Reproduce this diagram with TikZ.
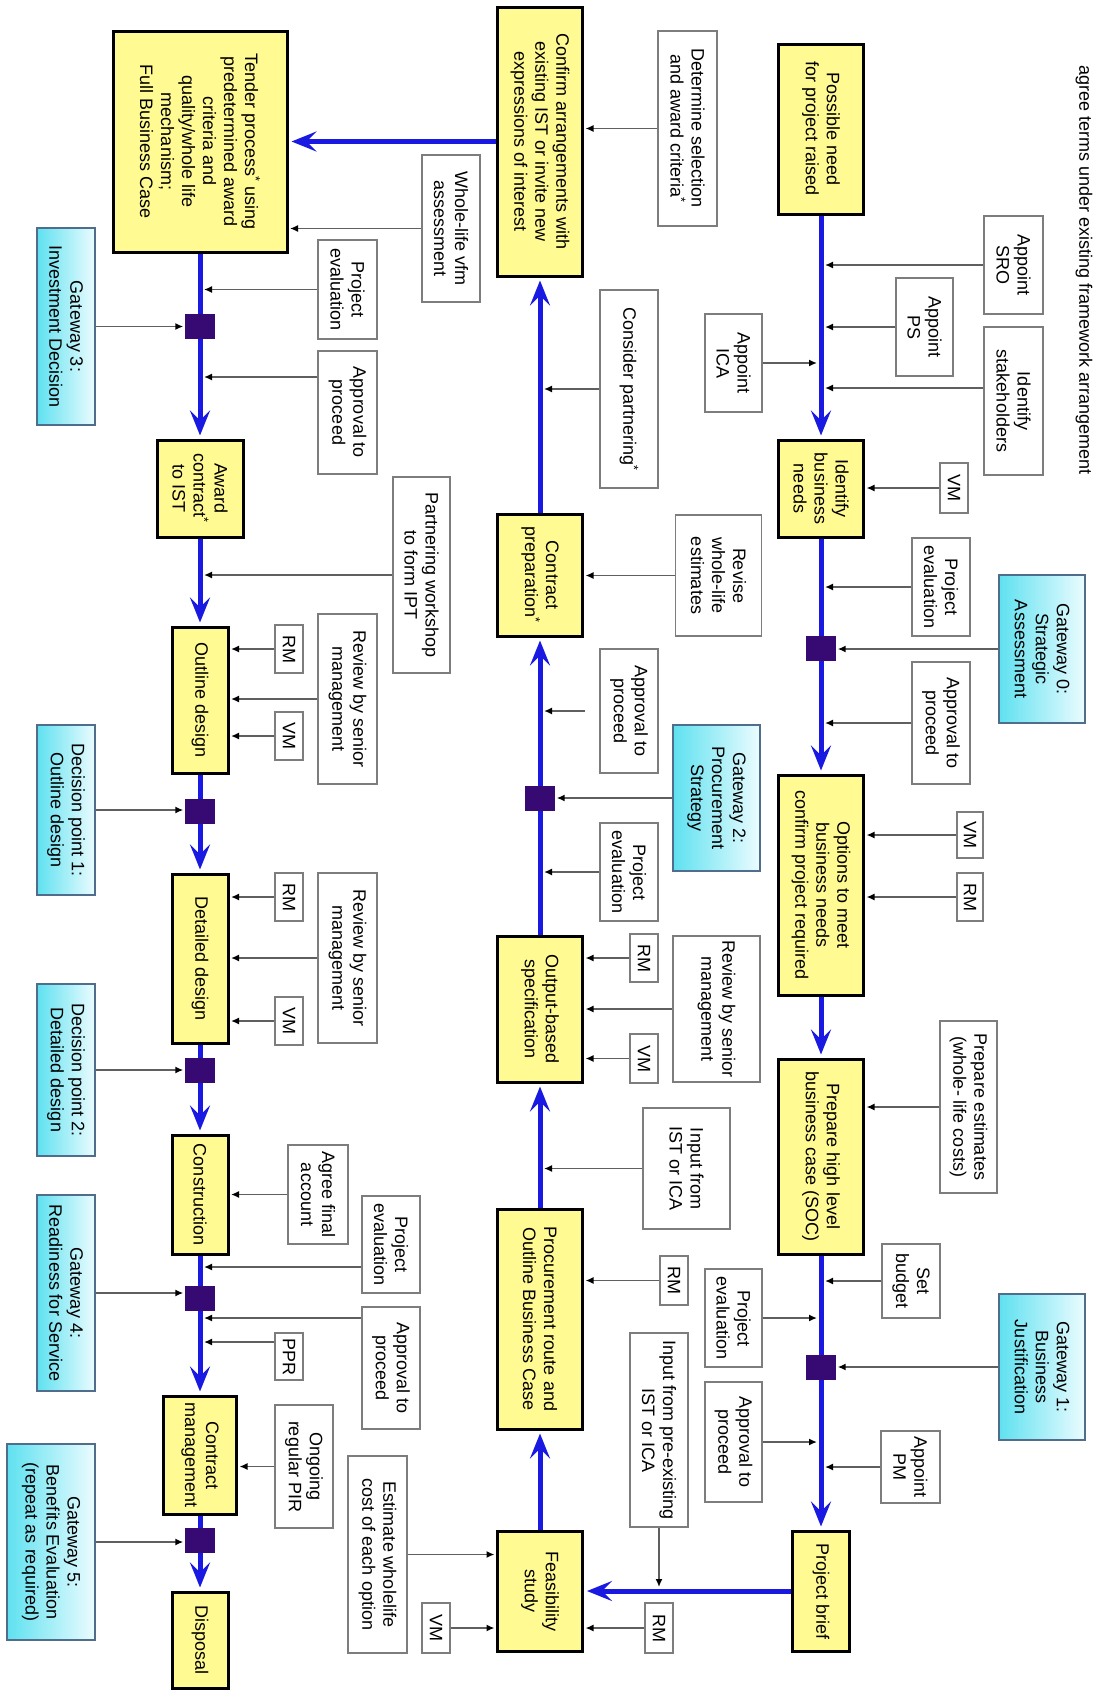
\documentclass[tikz,border=0pt]{standalone}
\usepackage{fontspec}
\setmainfont{Liberation Sans}
\usetikzlibrary{arrows.meta}

\definecolor{stagefill}{RGB}{255,250,145}
\definecolor{flowblue}{RGB}{25,25,225}
\definecolor{gatepurple}{RGB}{55,10,115}
\definecolor{gatecyan}{RGB}{95,225,240}
\definecolor{gatelight}{RGB}{235,252,255}
\definecolor{gateedge}{RGB}{80,110,140}
\definecolor{notegray}{RGB}{125,125,125}
\definecolor{feedgray}{RGB}{95,95,95}

\tikzset{
  stagebox/.style={draw=black, line width=3pt, fill=stagefill, rotate=-90, align=center, inner sep=2pt},
  notebox/.style={draw=notegray, line width=1.5pt, fill=white, rotate=-90, align=center, inner sep=2pt},
  gatebox/.style={draw=gateedge, line width=1.5pt, left color=gatecyan, right color=gatelight, rotate=-90, align=center, inner sep=2pt},
  gatesq/.style={fill=gatepurple, minimum width=30, minimum height=25, inner sep=0pt},
  flowline/.style={draw=flowblue, line width=5pt, -{Stealth[length=25pt,width=20pt,inset=10pt]}, shorten >=3pt},
  feedline/.style={draw=feedgray, line width=1.5pt, -{Latex[length=8pt,width=7pt,color=black]}, shorten >=4pt},
  feedbox/.style={feedline, shorten >=1.5pt}
}

\begin{document}
\begin{tikzpicture}[x=1pt, y=-1pt, font=\fontsize{18}{21}\selectfont]
\useasboundingbox (0,0) rectangle (1096,1690);
\coordinate (ls) at (200,0);
\coordinate (ms) at (540,0);
\coordinate (rs) at (821,0);

\node[rotate=-90] (agr) at (1084,270) {agree terms under existing framework arrangement};

% right-hand column
\node[stagebox, minimum width=170, minimum height=85] (need) at (821,129) {Possible need\\for project raised};
\node[notebox, minimum width=98, minimum height=59] (sro) at (1013.5,265) {Appoint\\SRO};
\node[notebox, minimum width=98, minimum height=57] (ps) at (924.5,327) {Appoint\\PS};
\node[notebox, minimum width=148, minimum height=59] (stk) at (1013.5,401) {Identify\\stakeholders};
\node[notebox, minimum width=98, minimum height=57] (ica) at (733.5,363) {Appoint\\ICA};
\node[stagebox, minimum width=97, minimum height=85] (idn) at (821,488.5) {Identify\\business\\needs};
\node[notebox, minimum width=50, minimum height=28] (vm1) at (954,488) {VM};
\node[notebox, minimum width=98, minimum height=58] (pe0) at (941,587) {Project\\evaluation};
\node[gatebox, minimum width=148, minimum height=86] (gw0) at (1042,649) {Gateway 0:\\Strategic\\Assessment};
\node[notebox, minimum width=122, minimum height=58] (ap0) at (941,723) {Approval to\\proceed};
\node[stagebox, minimum width=220, minimum height=85] (opt) at (821,885) {Options to meet\\business needs\\confirm project required};
\node[notebox, minimum width=46, minimum height=26] (vm2) at (970,835) {VM};
\node[notebox, minimum width=48, minimum height=26] (rm2) at (970,897) {RM};
\node[stagebox, minimum width=195, minimum height=85] (soc) at (821,1156.5) {Prepare high level\\business case (SOC)};
\node[notebox, minimum width=172, minimum height=57] (est) at (968.5,1107) {Prepare estimates\\(whole- life costs)};
\node[notebox, minimum width=74, minimum height=58] (bud) at (911,1281) {Set\\budget};
\node[notebox, minimum width=98, minimum height=57] (pe1) at (733.5,1318) {Project\\evaluation};
\node[gatebox, minimum width=146, minimum height=86] (gw1) at (1042,1367) {Gateway 1:\\Business\\Justification};
\node[notebox, minimum width=120, minimum height=57] (ap1) at (733.5,1442) {Approval to\\proceed};
\node[notebox, minimum width=72, minimum height=59] (pm) at (910.5,1467) {Appoint\\PM};
\node[stagebox, minimum width=120, minimum height=57] (brief) at (821,1591) {Project brief};

% middle column
\node[stagebox, minimum width=269, minimum height=85] (conf) at (540,141.5) {Confirm arrangements with\\existing IST or invite new\\expressions of interest};
\node[notebox, minimum width=195, minimum height=59] (det) at (687.5,128.5) {Determine selection\\and award criteria\textsuperscript{*}};
\node[notebox, minimum width=147, minimum height=58] (vfm) at (451,228.5) {Whole-life vfm\\assessment};
\node[notebox, minimum width=198, minimum height=58] (cons) at (629,389) {Consider partnering\textsuperscript{*}};
\node[stagebox, minimum width=122, minimum height=85] (cprep) at (540,575) {Contract\\preparation\textsuperscript{*}};
\node[notebox, minimum width=121, minimum height=86] (rev) at (718.5,575.5) {Revise\\whole-life\\estimates};
\node[notebox, minimum width=124, minimum height=58] (ap2) at (629,711) {Approval to\\proceed};
\node[gatebox, minimum width=146, minimum height=87] (gw2) at (716.5,798) {Gateway 2:\\Procurement\\Strategy};
\node[notebox, minimum width=98, minimum height=58] (pe2) at (629,872) {Project\\evaluation};
\node[stagebox, minimum width=146, minimum height=85] (obs) at (540,1009) {Output-based\\specification};
\node[notebox, minimum width=48, minimum height=28] (rm3) at (644,958) {RM};
\node[notebox, minimum width=146, minimum height=87] (srm3) at (716.5,1009) {Review by senior\\management};
\node[notebox, minimum width=49, minimum height=28] (vm3) at (644,1058.5) {VM};
\node[notebox, minimum width=121, minimum height=87] (inp) at (686.5,1168.5) {Input from\\IST or ICA};
\node[stagebox, minimum width=220, minimum height=85] (proc) at (540,1319) {Procurement route and\\Outline Business Case};
\node[notebox, minimum width=49, minimum height=28] (rm4) at (674,1280.5) {RM};
\node[notebox, minimum width=194, minimum height=58] (pre) at (659,1430) {Input from pre-existing\\IST or ICA};
\node[stagebox, minimum width=120, minimum height=85] (feas) at (540,1591) {Feasibility\\study};
\node[notebox, minimum width=50, minimum height=28] (rm5) at (659,1628) {RM};
\node[notebox, minimum width=197, minimum height=59] (ewl) at (377.5,1554.5) {Estimate wholelife\\cost of each option};
\node[notebox, minimum width=50, minimum height=28] (vm5) at (436,1628) {VM};

% left-hand column
\node[stagebox, minimum width=221, minimum height=174] (tend) at (200,141.5) {Tender process\textsuperscript{*} using\\predetermined award\\criteria and\\quality/whole life\\mechanism;\\Full Business Case};
\node[notebox, minimum width=99, minimum height=59] (pe3) at (347.5,289.5) {Project\\evaluation};
\node[gatebox, minimum width=197, minimum height=58] (gw3) at (66,326.5) {Gateway 3:\\Investment Decision};
\node[notebox, minimum width=123, minimum height=59] (ap3) at (347.5,412.5) {Approval to\\proceed};
\node[stagebox, minimum width=97, minimum height=86] (awd) at (200,488.5) {Award\\contract\textsuperscript{*}\\to IST};
\node[notebox, minimum width=196, minimum height=57] (pws) at (421.5,575) {Partnering workshop\\to form IPT};
\node[stagebox, minimum width=146, minimum height=56] (od) at (200,700) {Outline design};
\node[notebox, minimum width=48, minimum height=28] (rm6) at (289,649) {RM};
\node[notebox, minimum width=170, minimum height=59] (srm6) at (347.5,699) {Review by senior\\management};
\node[notebox, minimum width=48, minimum height=28] (vm6) at (289,736) {VM};
\node[gatebox, minimum width=170, minimum height=58] (dp1) at (66,810) {Decision point 1:\\Outline design};
\node[stagebox, minimum width=169, minimum height=56] (dd) at (200,958.5) {Detailed design};
\node[notebox, minimum width=48, minimum height=28] (rm7) at (289,897) {RM};
\node[notebox, minimum width=170, minimum height=59] (srm7) at (347.5,958) {Review by senior\\management};
\node[notebox, minimum width=48, minimum height=28] (vm7) at (289,1021) {VM};
\node[gatebox, minimum width=172, minimum height=58] (dp2) at (66,1070) {Decision point 2:\\Detailed design};
\node[stagebox, minimum width=119, minimum height=56] (con) at (200,1194.5) {Construction};
\node[notebox, minimum width=99, minimum height=60] (afa) at (318,1194.5) {Agree final\\account};
\node[notebox, minimum width=97, minimum height=58] (pe4) at (391,1244.5) {Project\\evaluation};
\node[notebox, minimum width=122, minimum height=58] (ap4) at (391,1368) {Approval to\\proceed};
\node[gatebox, minimum width=196, minimum height=58] (gw4) at (66,1293) {Gateway 4:\\Readiness for Service};
\node[notebox, minimum width=47, minimum height=28] (ppr) at (289,1356.5) {PPR};
\node[stagebox, minimum width=118, minimum height=73] (cm) at (200,1455) {Contract\\management};
\node[notebox, minimum width=123, minimum height=58] (pir) at (304,1466.5) {Ongoing\\regular PIR};
\node[gatebox, minimum width=196, minimum height=88] (gw5) at (51,1542) {Gateway 5:\\Benefits Evaluation\\(repeat as required)};
\node[stagebox, minimum width=96, minimum height=56] (disp) at (200,1640) {Disposal};

% main flow
\draw[flowline] (need) -- (idn);
\draw[flowline] (idn) -- (opt);
\draw[flowline] (opt) -- (soc);
\draw[flowline] (soc) -- (brief);
\draw[flowline] (brief) -- (feas);
\draw[flowline] (feas) -- (proc);
\draw[flowline] (proc) -- (obs);
\draw[flowline] (obs) -- (cprep);
\draw[flowline] (cprep) -- (conf);
\draw[flowline] (conf) -- (tend);
\draw[flowline] (tend) -- (awd);
\draw[flowline] (awd) -- (od);
\draw[flowline] (od) -- (dd);
\draw[flowline] (dd) -- (con);
\draw[flowline] (con) -- (cm);
\draw[flowline] (cm) -- (disp);

% gateway markers
\node[gatesq] (sq0) at (821,648.5) {};
\node[gatesq] (sq1) at (821,1367.5) {};
\node[gatesq] (sq2) at (540,798.5) {};
\node[gatesq] (sq3) at (200,326.5) {};
\node[gatesq] (sqd1) at (200,811) {};
\node[gatesq] (sqd2) at (200,1070.5) {};
\node[gatesq] (sq4) at (200,1298) {};
\node[gatesq] (sq5) at (200,1540.5) {};

% inputs, right-hand column
\draw[feedline] (sro) -- (sro -| rs);
\draw[feedline] (ps) -- (ps -| rs);
\coordinate (stkout) at ([yshift=13pt]stk.south);
\draw[feedline] (stkout) -- (stkout -| rs);
\draw[feedline] (ica) -- (ica -| rs);
\draw[feedbox] (vm1) -- (vm1 -| idn.north);
\draw[feedline] (pe0) -- (pe0 -| rs);
\draw[feedbox] (gw0) -- (gw0 -| sq0.east);
\draw[feedline] (ap0) -- (ap0 -| rs);
\draw[feedbox] (vm2) -- (vm2 -| opt.north);
\draw[feedbox] (rm2) -- (rm2 -| opt.north);
\draw[feedbox] (est) -- (est -| soc.north);
\draw[feedline] (bud) -- (bud -| rs);
\draw[feedline] (pe1) -- (pe1 -| rs);
\draw[feedbox] (gw1) -- (gw1 -| sq1.east);
\draw[feedline] (ap1) -- (ap1 -| rs);
\draw[feedline] (pm) -- (pm -| rs);

% inputs, middle column
\draw[feedbox] (det) -- (det -| conf.north);
\draw[feedbox] (vfm) -- (vfm -| tend.north);
\draw[feedline] (cons) -- (cons -| ms);
\draw[feedbox] (rev) -- (rev -| cprep.north);
\coordinate (ap2end) at (585,711);
\draw[feedline] (ap2end) -- (ap2end -| ms);
\draw[feedbox] (gw2) -- (gw2 -| sq2.east);
\draw[feedline] (pe2) -- (pe2 -| ms);
\draw[feedbox] (rm3) -- (rm3 -| obs.north);
\draw[feedbox] (srm3) -- (srm3 -| obs.north);
\draw[feedbox] (vm3) -- (vm3 -| obs.north);
\draw[feedline] (inp) -- (inp -| ms);
\draw[feedbox] (rm4) -- (rm4 -| proc.north);
\draw[feedline] (pre) -- (pre |- brief);
\draw[feedbox] (rm5) -- (rm5 -| feas.north);
\draw[feedbox] (ewl) -- (ewl -| feas.south);
\draw[feedbox] (vm5) -- (vm5 -| feas.south);

% inputs, left-hand column
\draw[feedline] (pe3) -- (pe3 -| ls);
\draw[feedbox] (gw3) -- (gw3 -| sq3.west);
\coordinate (ap3out) at ([yshift=35.5pt]ap3.south);
\draw[feedline] (ap3out) -- (ap3out -| ls);
\draw[feedline] (pws) -- (pws -| ls);
\draw[feedbox] (rm6) -- (rm6 -| od.north);
\draw[feedbox] (srm6) -- (srm6 -| od.north);
\draw[feedbox] (vm6) -- (vm6 -| od.north);
\draw[feedbox] (dp1) -- (dp1 -| sqd1.west);
\draw[feedbox] (rm7) -- (rm7 -| dd.north);
\draw[feedbox] (srm7) -- (srm7 -| dd.north);
\draw[feedbox] (vm7) -- (vm7 -| dd.north);
\draw[feedbox] (dp2) -- (dp2 -| sqd2.west);
\draw[feedbox] (afa) -- (afa -| con.north);
\coordinate (pe4out) at ([yshift=-22.5pt]pe4.south);
\draw[feedline] (pe4out) -- (pe4out -| ls);
\coordinate (ap4out) at ([yshift=50pt]ap4.south);
\draw[feedline] (ap4out) -- (ap4out -| ls);
\draw[feedbox] (gw4) -- (gw4 -| sq4.west);
\coordinate (pprout) at ([yshift=14.5pt]ppr.south);
\draw[feedline] (pprout) -- (pprout -| ls);
\draw[feedbox] (pir) -- (pir -| cm.north);
\draw[feedbox] (gw5) -- (gw5 -| sq5.west);
\end{tikzpicture}
\end{document}
